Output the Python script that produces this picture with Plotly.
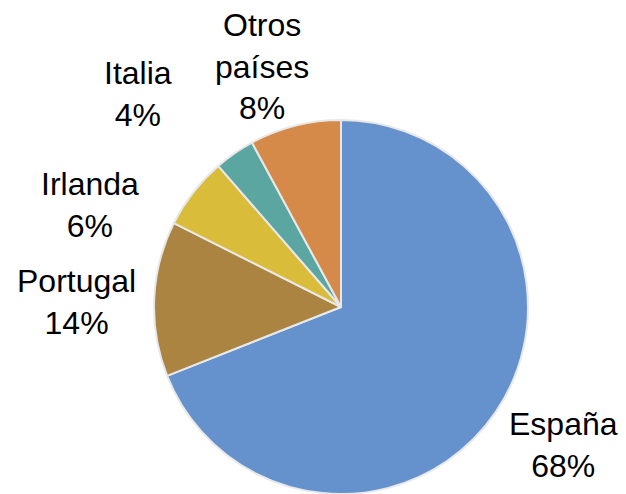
import plotly.graph_objects as go

labels = ["España", "Portugal", "Irlanda", "Italia", "Otros<br>países"]
values = [69.0, 13.4, 6.2, 3.5, 7.9]
pct_labels = ["68%", "14%", "6%", "4%", "8%"]
colors = ["#6591CC", "#AB8442", "#D8BC3A", "#5BA6A1", "#D58A49"]

# label placement (pixel positions of text block centres)
label_px = [(563, 445), (76, 302), (90, 205), (138, 94), (262, 66)]

W, H = 626, 494
cx, cy, r = 341, 307, 187

fig = go.Figure(go.Pie(
    labels=labels,
    values=values,
    sort=False,
    direction="clockwise",
    rotation=0,
    textinfo="none",
    hoverinfo="label",
    marker=dict(colors=colors, line=dict(color="#E8E8E8", width=2)),
    domain=dict(x=[(cx - r) / W, (cx + r) / W], y=[1 - (cy + r) / H, 1 - (cy - r) / H]),
    showlegend=False,
))

for lab, pct, (px, py) in zip(labels, pct_labels, label_px):
    fig.add_annotation(
        x=px / W, y=1 - py / H, xref="paper", yref="paper",
        text=f"{lab}<br>{pct}",
        showarrow=False, xanchor="center", yanchor="middle", align="center",
        font=dict(family="Liberation Sans, Arial", size=32, color="#000000"),
    )

fig.update_layout(
    width=W, height=H,
    margin=dict(l=0, r=0, t=0, b=0),
    paper_bgcolor="white", plot_bgcolor="white",
)
fig.write_html(
    "out.html",
    config={"displayModeBar": False},
    post_script="document.body.style.margin='0';document.body.style.overflow='hidden';",
)
